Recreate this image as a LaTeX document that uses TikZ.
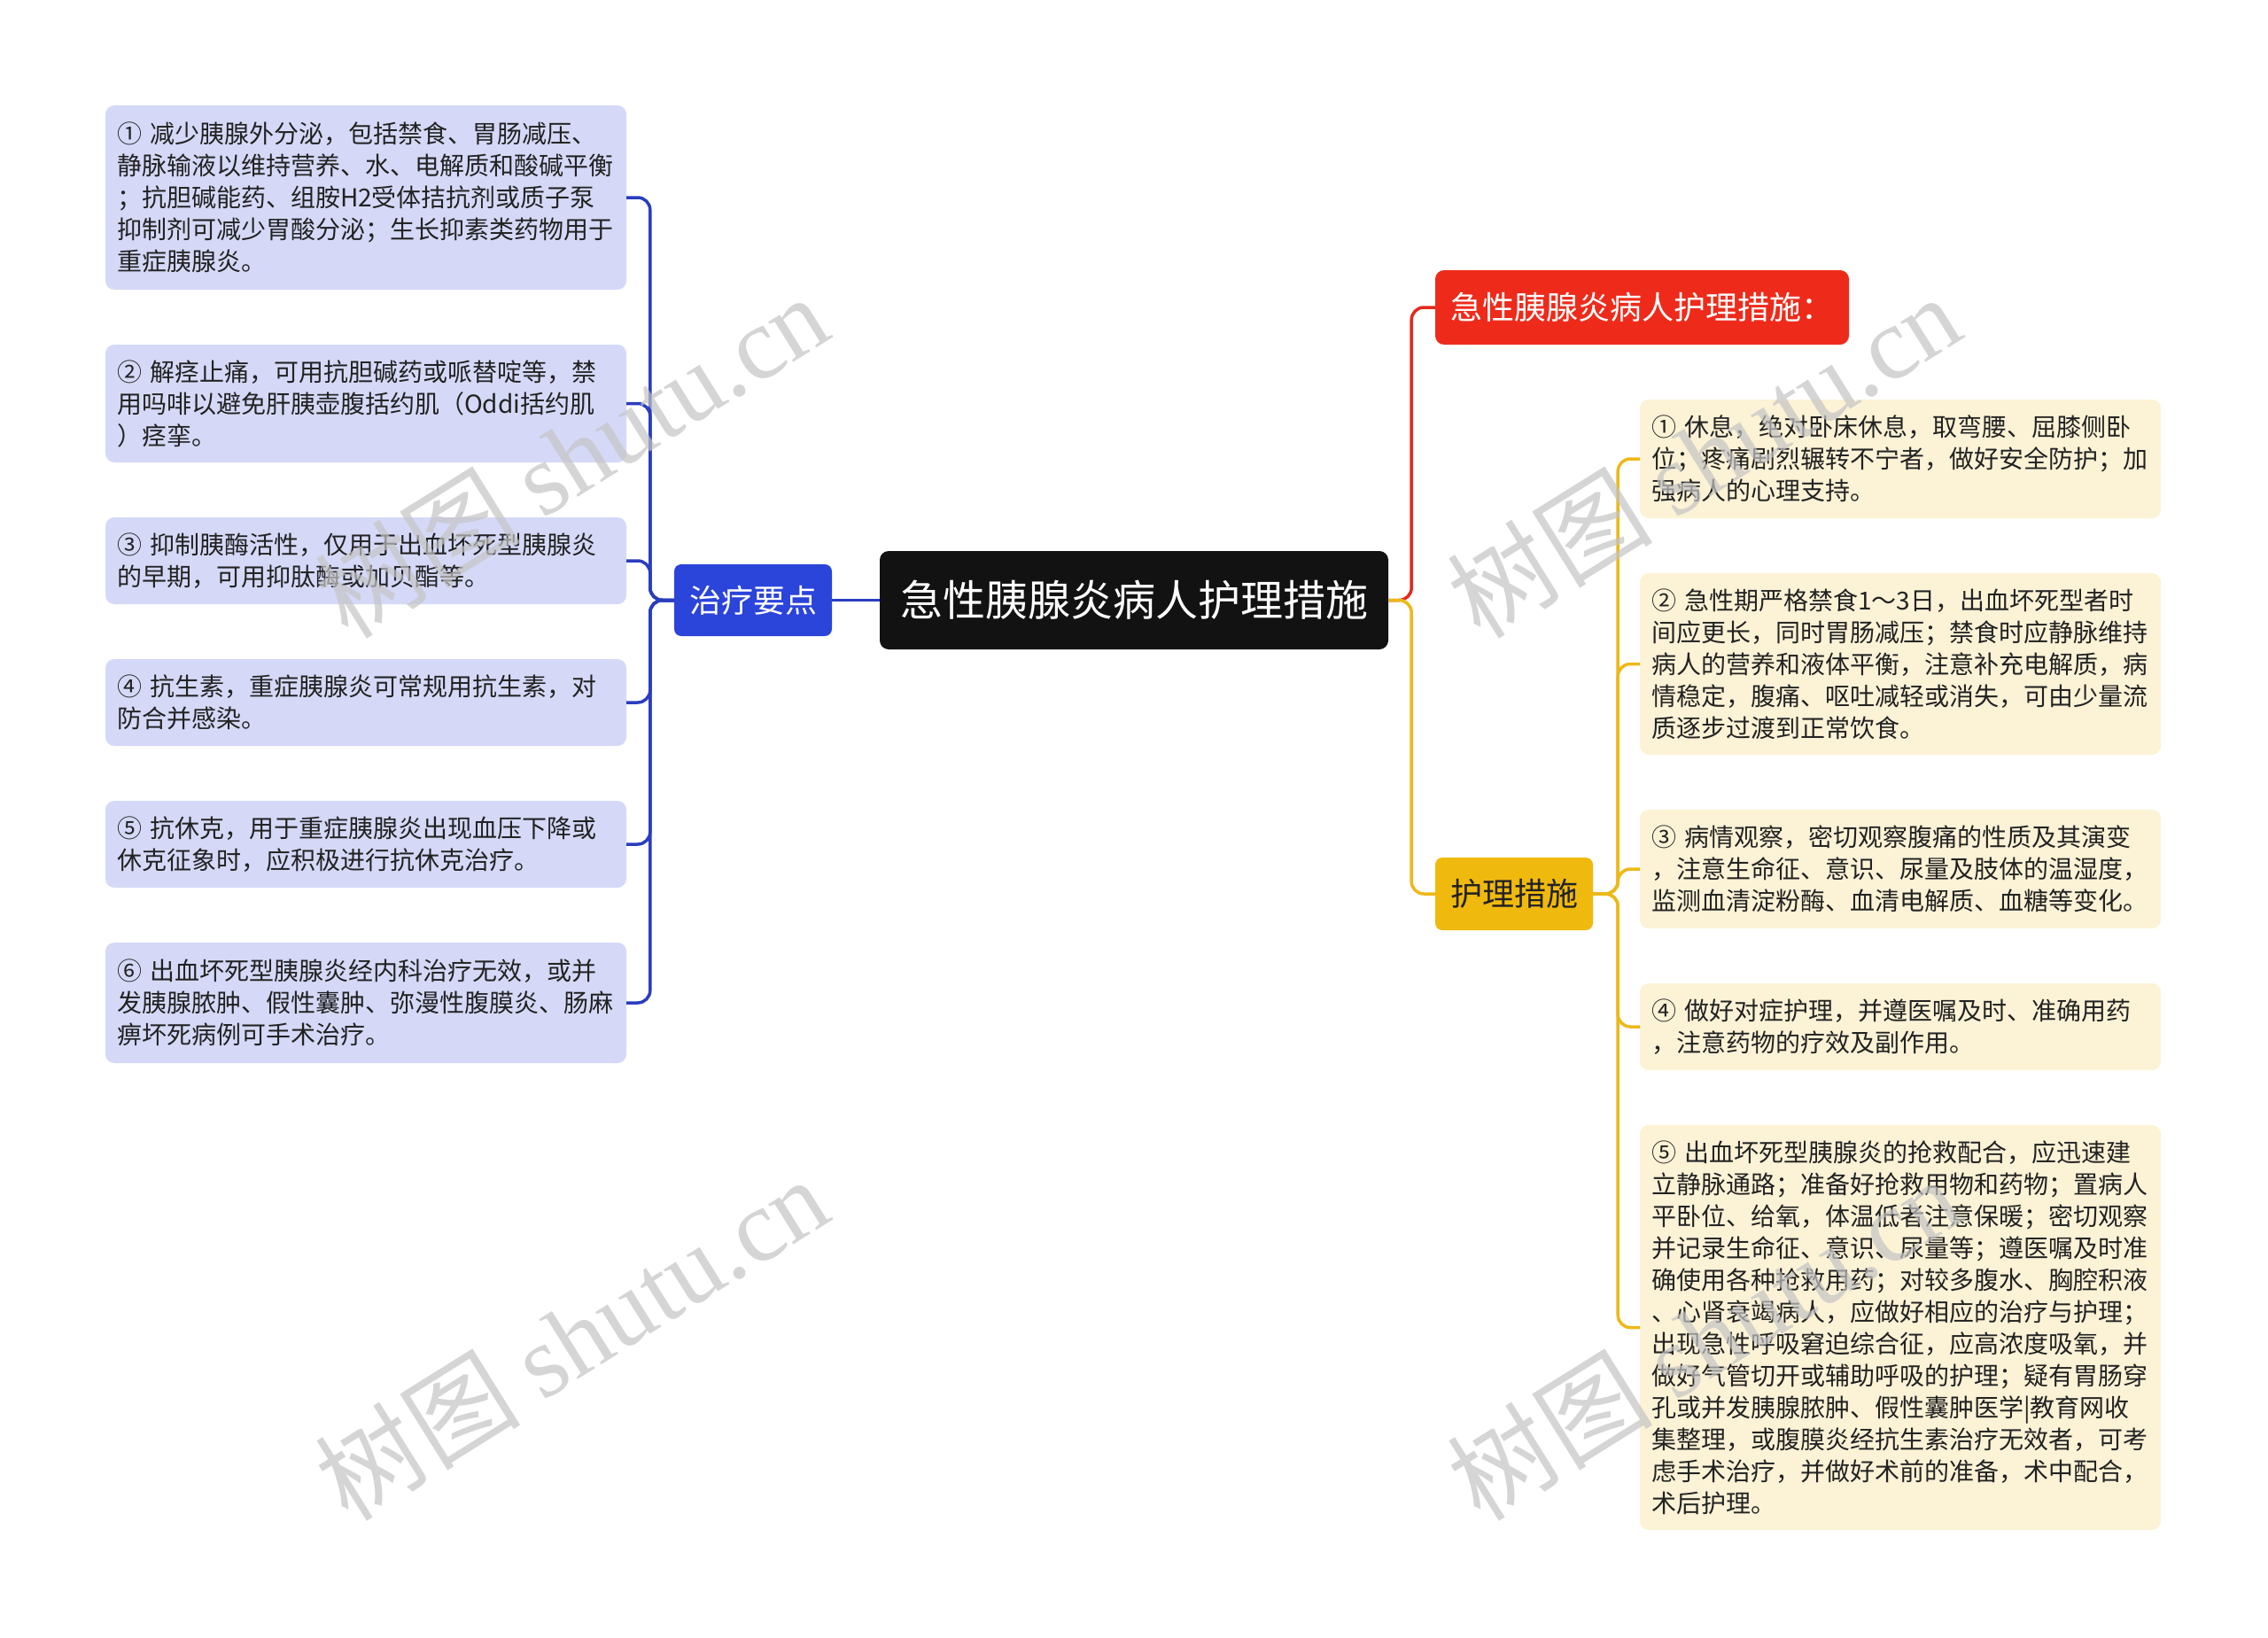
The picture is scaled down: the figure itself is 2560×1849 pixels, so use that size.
\documentclass[tikz,border=0pt]{standalone}
\usepackage{fontspec}
\setmainfont{Noto Sans CJK SC}
\newfontfamily\wmserif{Liberation Serif}
\definecolor{lbfill}{HTML}{D5D9F7}
\definecolor{rbfill}{HTML}{FCF2D6}
\definecolor{tzblue}{HTML}{2B44DA}
\definecolor{lnblue}{HTML}{2A3DBF}
\definecolor{redbox}{HTML}{EE2B1B}
\definecolor{redln}{HTML}{E3291C}
\definecolor{yelbox}{HTML}{F0B90D}
\definecolor{yelln}{HTML}{EDB818}
\definecolor{rootbk}{HTML}{121212}
\definecolor{txt}{HTML}{222222}
\definecolor{wmgray}{HTML}{C4C4C4}
\begin{document}
\begin{tikzpicture}[x=1pt,y=-1pt,
  leftbox/.style={fill=lbfill, rounded corners=10pt, text width=562pt, inner xsep=13pt, inner ysep=0pt, align=left, anchor=center, text=txt, font=\fontsize{28}{36}\selectfont},
  rightbox/.style={leftbox, fill=rbfill},
  rootbox/.style={fill=rootbk, rounded corners=10pt, text=white, minimum width=574pt, minimum height=111pt, inner sep=0pt, font=\fontsize{48}{50}\selectfont},
  tzbox/.style={fill=tzblue, rounded corners=8pt, text=white, minimum width=178pt, minimum height=81pt, inner sep=0pt, font=\fontsize{36}{40}\selectfont},
  rednode/.style={fill=redbox, rounded corners=10pt, text=white, minimum width=467pt, minimum height=84pt, inner sep=0pt, font=\fontsize{36}{40}\selectfont},
  yelnode/.style={fill=yelbox, rounded corners=8pt, text=txt, minimum width=178pt, minimum height=82pt, inner sep=0pt, font=\fontsize{36}{40}\selectfont},
  lline/.style={draw=lnblue, line width=3.5pt, rounded corners=14pt},
  rline/.style={draw=redln, line width=3.5pt, rounded corners=14pt},
  yline/.style={draw=yelln, line width=3.5pt, rounded corners=14pt},
  wm/.style={text=wmgray, opacity=0.7, rotate=32, font=\fontsize{116}{118}\selectfont, inner sep=0pt}
]
\useasboundingbox[fill=white] (0,0) rectangle (2560,1849);

% central nodes
\node[rootbox] (root) at (1280,677.5) {急性胰腺炎病人护理措施};
\node[tzbox] (tz) at (850,677.5) {治疗要点};
\node[rednode] (red) at (1853.5,347) {急性胰腺炎病人护理措施：};
\node[yelnode] (hl) at (1709,1009) {护理措施};

% left boxes
\node[leftbox, minimum height=208pt] (L1) at (413,223) {① 减少胰腺外分泌，包括禁食、胃肠减压、\\静脉输液以维持营养、水、电解质和酸碱平衡\\；抗胆碱能药、组胺H2受体拮抗剂或质子泵\\抑制剂可减少胃酸分泌；生长抑素类药物用于\\重症胰腺炎。};
\node[leftbox, minimum height=133pt] (L2) at (413,455.5) {② 解痉止痛，可用抗胆碱药或哌替啶等，禁\\用吗啡以避免肝胰壶腹括约肌（Oddi括约肌\\）痉挛。};
\node[leftbox, minimum height=98pt] (L3) at (413,633) {③ 抑制胰酶活性，仅用于出血坏死型胰腺炎\\的早期，可用抑肽酶或加贝酯等。};
\node[leftbox, minimum height=98pt] (L4) at (413,793) {④ 抗生素，重症胰腺炎可常规用抗生素，对\\防合并感染。};
\node[leftbox, minimum height=98pt] (L5) at (413,953) {⑤ 抗休克，用于重症胰腺炎出现血压下降或\\休克征象时，应积极进行抗休克治疗。};
\node[leftbox, minimum height=136pt] (L6) at (413,1132) {⑥ 出血坏死型胰腺炎经内科治疗无效，或并\\发胰腺脓肿、假性囊肿、弥漫性腹膜炎、肠麻\\痹坏死病例可手术治疗。};

% right boxes
\node[rightbox, minimum height=134pt] (R1) at (2145,518) {① 休息，绝对卧床休息，取弯腰、屈膝侧卧\\位；疼痛剧烈辗转不宁者，做好安全防护；加\\强病人的心理支持。};
\node[rightbox, minimum height=205pt] (R2) at (2145,749.5) {② 急性期严格禁食1～3日，出血坏死型者时\\间应更长，同时胃肠减压；禁食时应静脉维持\\病人的营养和液体平衡，注意补充电解质，病\\情稳定，腹痛、呕吐减轻或消失，可由少量流\\质逐步过渡到正常饮食。};
\node[rightbox, minimum height=134pt] (R3) at (2145,981) {③ 病情观察，密切观察腹痛的性质及其演变\\，注意生命征、意识、尿量及肢体的温湿度，\\监测血清淀粉酶、血清电解质、血糖等变化。};
\node[rightbox, minimum height=98pt] (R4) at (2145,1159) {④ 做好对症护理，并遵医嘱及时、准确用药\\，注意药物的疗效及副作用。};
\node[rightbox, minimum height=457pt] (R5) at (2145,1498.5) {⑤ 出血坏死型胰腺炎的抢救配合，应迅速建\\立静脉通路；准备好抢救用物和药物；置病人\\平卧位、给氧，体温低者注意保暖；密切观察\\并记录生命征、意识、尿量等；遵医嘱及时准\\确使用各种抢救用药；对较多腹水、胸腔积液\\、心肾衰竭病人，应做好相应的治疗与护理；\\出现急性呼吸窘迫综合征，应高浓度吸氧，并\\做好气管切开或辅助呼吸的护理；疑有胃肠穿\\孔或并发胰腺脓肿、假性囊肿医学|教育网收\\集整理，或腹膜炎经抗生素治疗无效者，可考\\虑手术治疗，并做好术前的准备，术中配合，\\术后护理。};

% left connectors
\draw[lline] (root.west) -- (tz.east);
\foreach \n in {L1,L2,L3,L4,L5,L6}{
  \draw[lline] (tz.west) -- ++(-27,0) |- (\n.east);
}
% right connectors
\draw[rline] (root.east) -- ++(26,0) |- (red.west);
\draw[yline] (root.east) -- ++(26,0) |- (hl.west);
\foreach \n in {R1,R2,R3,R4,R5}{
  \draw[yline] (hl.east) -- ++(28,0) |- (\n.west);
}

% watermarks
\node[wm] (wm1) at (645,514) {树图 {\wmserif shutu.cn}};
\node[wm] (wm2) at (1923,514) {树图 {\wmserif shutu.cn}};
\node[wm] (wm3) at (645,1510) {树图 {\wmserif shutu.cn}};
\node[wm] (wm4) at (1923,1510) {树图 {\wmserif shutu.cn}};
\end{tikzpicture}
\end{document}
